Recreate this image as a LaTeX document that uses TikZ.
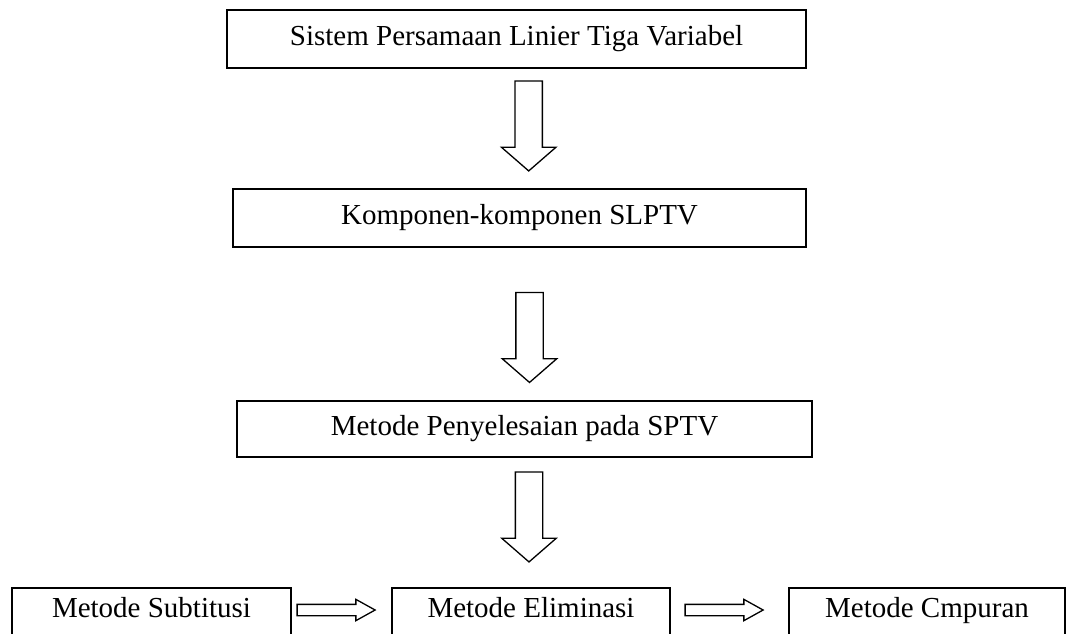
\documentclass[tikz,border=0pt]{standalone}
\usepackage{fontspec}
\setmainfont{Liberation Serif}
\usetikzlibrary{shapes.arrows}

\begin{document}
\begin{tikzpicture}[x=1pt,y=-1pt,
  box/.style={rectangle,draw=black,line width=1.6pt,inner sep=0pt,font=\fontsize{29}{33}\selectfont},
  lowbox/.style={box,minimum height=48pt,text height=19pt,text depth=8pt},
  downarrow/.style={single arrow,draw=black,line width=1.3pt,inner sep=13pt,minimum height=90pt,
    single arrow head extend=13.5pt,single arrow tip angle=98,shape border rotate=270},
  rightarrow/.style={single arrow,draw=black,line width=1.3pt,inner sep=5pt,minimum height=78pt,
    single arrow head extend=5pt,single arrow tip angle=58}
]
\useasboundingbox (0,0) rectangle (1067,633);
\clip (0,0) rectangle (1067,633);
% main column
\node[box,minimum width=579pt,minimum height=58pt] (spltv) at (516.5,39) {Sistem Persamaan Linier Tiga Variabel};
\node[box,minimum width=573pt,minimum height=58pt] (komponen) at (519.5,218) {Komponen-komponen SLPTV};
\node[box,minimum width=575pt,minimum height=56pt] (metode) at (524.5,429) {Metode Penyelesaian pada SPTV};
\node[downarrow] (arrA) at (528.7,120) {};
\node[downarrow] (arrB) at (529.5,331.5) {};
\node[downarrow] (arrC) at (529,511) {};
% bottom row
\node[lowbox,minimum width=279pt] (subtitusi) at (151.5,612) {Metode Subtitusi};
\node[lowbox,minimum width=278pt] (eliminasi) at (531,612) {Metode Eliminasi};
\node[lowbox,minimum width=276pt] (campuran) at (927,612) {Metode Cmpuran};
\node[rightarrow] (arrD) at (331,610) {};
\node[rightarrow] (arrE) at (719,610) {};
\end{tikzpicture}
\end{document}
